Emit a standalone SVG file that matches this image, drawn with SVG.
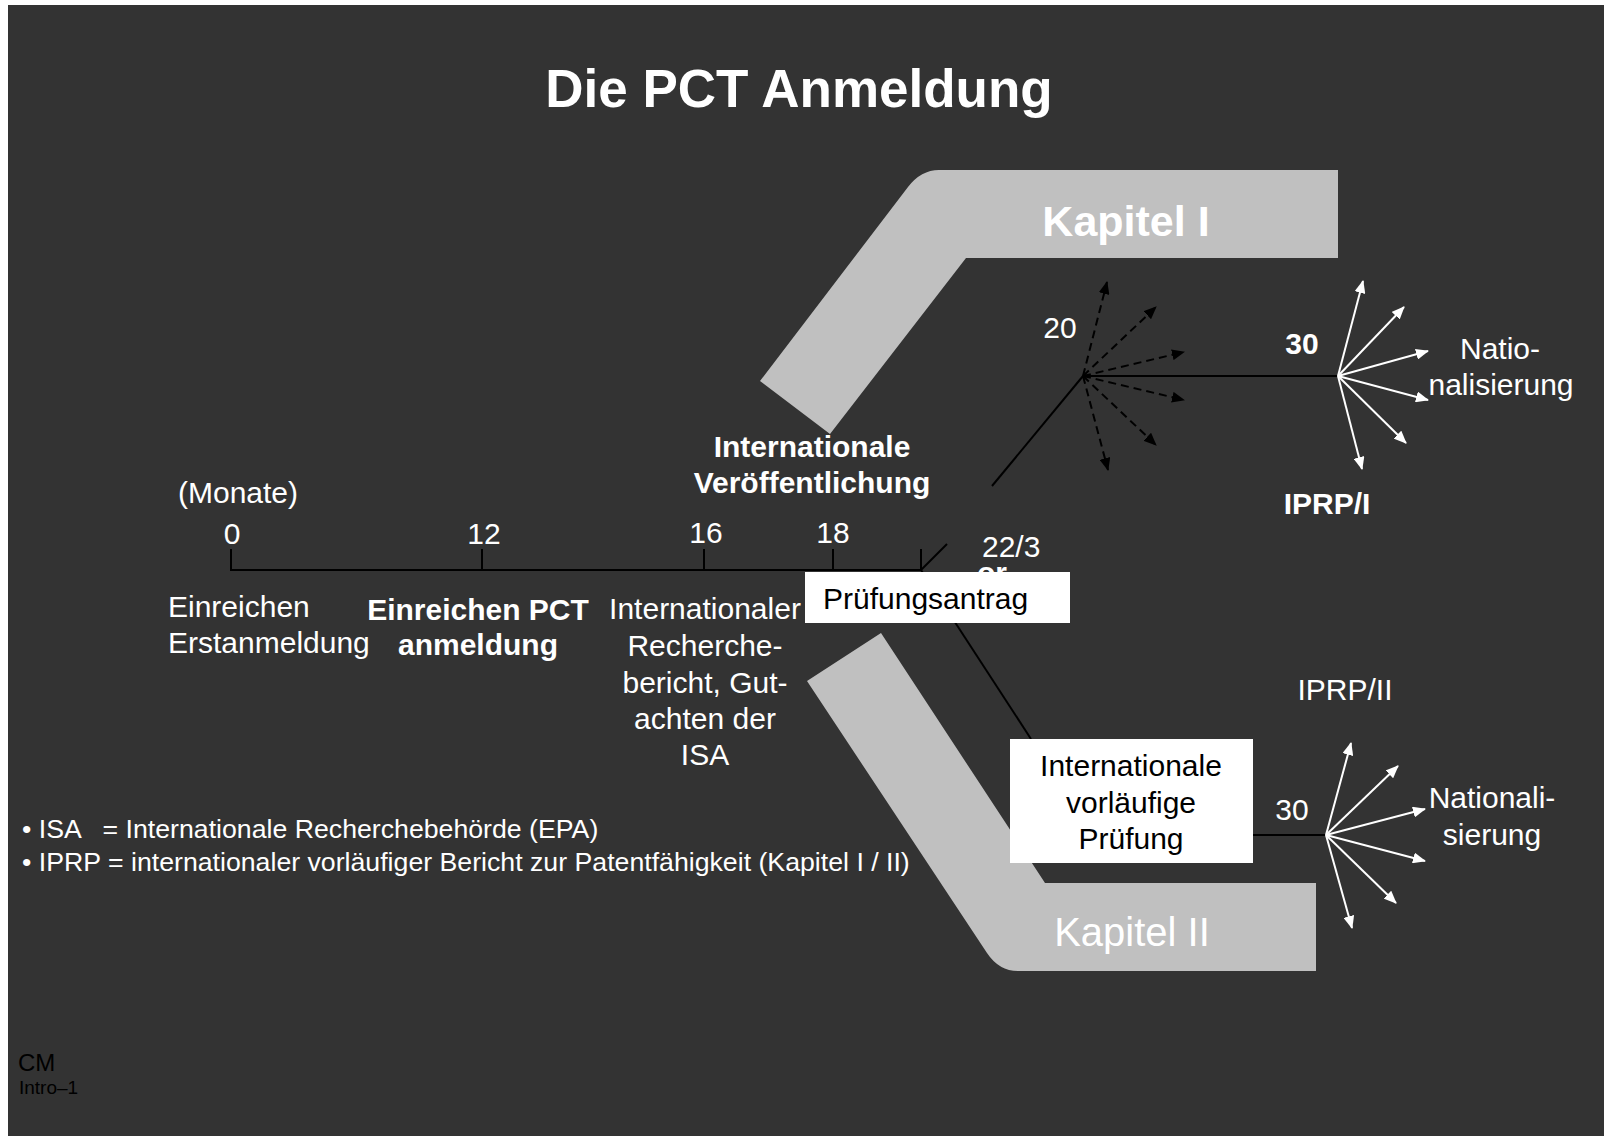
<svg xmlns="http://www.w3.org/2000/svg" width="1604" height="1136" viewBox="0 0 1604 1136">
  <style>
    text { font-family: "Liberation Sans", Arial, sans-serif; }
    .w { fill: #ffffff; font-size: 30px; }
    .wb { fill: #ffffff; font-size: 30px; font-weight: bold; }
    .k { fill: #000000; font-size: 30px; }
    .mid { text-anchor: middle; }
    .band { fill: #c0c0c0; }
    .box { fill: #ffffff; }
    .ln { stroke: #000000; stroke-width: 2; fill: none; }
    .dash { stroke: #000000; stroke-width: 2; stroke-dasharray: 8 5; fill: none; marker-end: url(#ab); }
    .wa { stroke: #ffffff; stroke-width: 2; fill: none; marker-end: url(#aw); }
    .note { fill: #ffffff; font-size: 26.7px; white-space: pre; }
  </style>
  <defs>
    <marker id="ab" markerUnits="userSpaceOnUse" markerWidth="13" markerHeight="11" refX="12" refY="5.5" orient="auto">
      <path d="M0,0 L13,5.5 L0,11 Z" fill="#000000"/>
    </marker>
    <marker id="aw" markerUnits="userSpaceOnUse" markerWidth="13" markerHeight="11" refX="12" refY="5.5" orient="auto">
      <path d="M0,0 L13,5.5 L0,11 Z" fill="#ffffff"/>
    </marker>
  </defs>

  <rect x="0" y="0" width="1604" height="1136" fill="#ffffff"/>
  <rect x="8" y="5" width="1596" height="1131" fill="#333333"/>

  <g id="title">
    <text x="799" y="107" text-anchor="middle" font-size="53" font-weight="bold" fill="#ffffff">Die PCT Anmeldung</text>
  </g>

  <g id="kapitel1">
    <path class="band" d="M760,381 L908,187 Q921,170 939,170 L1338,170 L1338,258 L966,258 L830,434 Z"/>
    <text x="1126" y="236" text-anchor="middle" font-size="43" font-weight="bold" fill="#ffffff">Kapitel I</text>
  </g>

  <g id="kapitel2">
    <path class="band" d="M807,681 L881,633 L1045,883 L1316,883 L1316,971 L1018,971 Q999,971 987,953 Z"/>
    <text x="1132" y="946" text-anchor="middle" font-size="40" fill="#ffffff">Kapitel II</text>
  </g>

  <g id="connectors">
    <line class="ln" x1="231" y1="570" x2="921" y2="570"/>
    <line class="ln" x1="231" y1="549" x2="231" y2="571"/>
    <line class="ln" x1="482" y1="549" x2="482" y2="571"/>
    <line class="ln" x1="704" y1="549" x2="704" y2="571"/>
    <line class="ln" x1="833" y1="549" x2="833" y2="571"/>
    <line class="ln" x1="921" y1="549" x2="921" y2="571"/>
    <line class="ln" x1="921" y1="570" x2="947" y2="544"/>
    <line class="ln" x1="992" y1="486" x2="1083" y2="376"/>
    <line class="ln" x1="1083" y1="376" x2="1338" y2="376"/>
    <line class="ln" x1="921" y1="570" x2="1031" y2="739"/>
    <line class="ln" x1="1253" y1="835" x2="1326" y2="835"/>
    <line class="dash" x1="1083" y1="376" x2="1107" y2="282"/>
    <line class="dash" x1="1083" y1="376" x2="1156" y2="307"/>
    <line class="dash" x1="1083" y1="376" x2="1184" y2="352"/>
    <line class="dash" x1="1083" y1="376" x2="1184" y2="400"/>
    <line class="dash" x1="1083" y1="376" x2="1156" y2="445"/>
    <line class="dash" x1="1083" y1="376" x2="1108" y2="470"/>
    <line class="wa" x1="1338" y1="376" x2="1363" y2="281"/>
    <line class="wa" x1="1338" y1="376" x2="1404" y2="307"/>
    <line class="wa" x1="1338" y1="376" x2="1428" y2="351"/>
    <line class="wa" x1="1338" y1="376" x2="1428" y2="400"/>
    <line class="wa" x1="1338" y1="376" x2="1406" y2="443"/>
    <line class="wa" x1="1338" y1="376" x2="1362" y2="469"/>
    <line class="wa" x1="1326" y1="835" x2="1351" y2="743"/>
    <line class="wa" x1="1326" y1="835" x2="1398" y2="766"/>
    <line class="wa" x1="1326" y1="835" x2="1425" y2="809"/>
    <line class="wa" x1="1326" y1="835" x2="1425" y2="861"/>
    <line class="wa" x1="1326" y1="835" x2="1396" y2="903"/>
    <line class="wa" x1="1326" y1="835" x2="1352" y2="928"/>
  </g>

  <g id="timeline-labels">
    <text class="w" x="178" y="503">(Monate)</text>
    <text class="w mid" x="232" y="544">0</text>
    <text class="w mid" x="484" y="544">12</text>
    <text class="w mid" x="706" y="543">16</text>
    <text class="w mid" x="833" y="543">18</text>
    <text class="w" x="982" y="557">22/3</text>
    <text class="wb" x="977" y="583">or</text>
  </g>

  <g id="event-erstanmeldung">
    <text class="w" x="168" y="617">Einreichen</text>
    <text class="w" x="168" y="653">Erstanmeldung</text>
  </g>

  <g id="event-pct">
    <text class="wb mid" x="478" y="620">Einreichen PCT</text>
    <text class="wb mid" x="478" y="655">anmeldung</text>
  </g>

  <g id="event-recherche">
    <text class="w mid" x="705" y="619">Internationaler</text>
    <text class="w mid" x="705" y="656">Recherche-</text>
    <text class="w mid" x="705" y="693">bericht, Gut-</text>
    <text class="w mid" x="705" y="729">achten der</text>
    <text class="w mid" x="705" y="765">ISA</text>
  </g>

  <g id="event-veroeffentlichung">
    <text class="wb mid" x="812" y="457">Internationale</text>
    <text class="wb mid" x="812" y="493">Veröffentlichung</text>
  </g>

  <g id="pruefungsantrag">
    <rect class="box" x="805" y="572" width="265" height="51"/>
    <text class="k" x="823" y="609">Prüfungsantrag</text>
  </g>

  <g id="vorlaeufige-pruefung">
    <rect class="box" x="1010" y="739" width="243" height="124"/>
    <text class="k mid" x="1131" y="776">Internationale</text>
    <text class="k mid" x="1131" y="813">vorläufige</text>
    <text class="k mid" x="1131" y="849">Prüfung</text>
  </g>

  <g id="kapitel1-labels">
    <text class="w mid" x="1060" y="338">20</text>
    <text class="wb mid" x="1302" y="354" font-size="32">30</text>
    <text class="w mid" x="1500" y="359">Natio-</text>
    <text class="w mid" x="1501" y="395">nalisierung</text>
    <text class="wb mid" x="1327" y="514">IPRP/I</text>
  </g>

  <g id="kapitel2-labels">
    <text class="w mid" x="1345" y="700">IPRP/II</text>
    <text class="w mid" x="1292" y="820">30</text>
    <text class="w mid" x="1492" y="808">Nationali-</text>
    <text class="w mid" x="1492" y="845">sierung</text>
  </g>

  <g id="notes">
    <text class="note" x="22" y="838">• ISA   = Internationale Recherchebehörde (EPA)</text>
    <text class="note" x="22" y="871">• IPRP = internationaler vorläufiger Bericht zur Patentfähigkeit (Kapitel I / II)</text>
  </g>

  <g id="footer">
    <text x="18" y="1071" font-size="24" fill="#000000">CM</text>
    <text x="19" y="1094" font-size="19" fill="#000000">Intro–1</text>
  </g>
</svg>
